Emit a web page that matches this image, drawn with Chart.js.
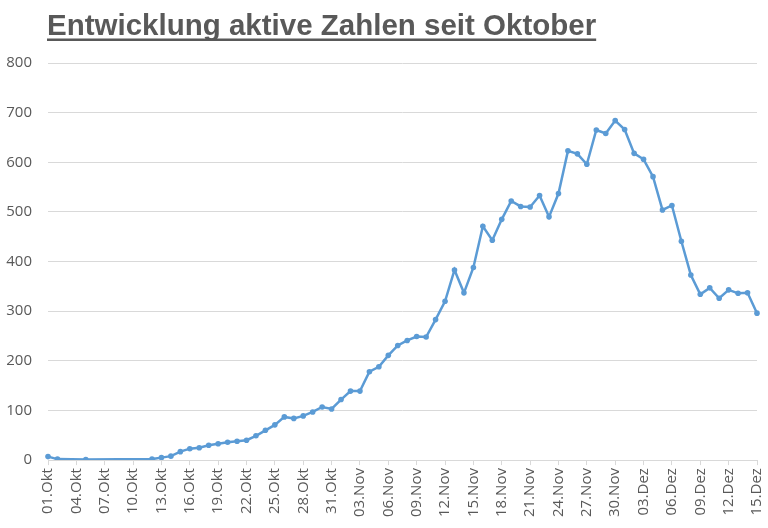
<!DOCTYPE html>
<html>
<head>
<meta charset="utf-8">
<script src="https://cdn.jsdelivr.net/npm/chart.js@4/dist/chart.umd.min.js"></script>
<style>
  html, body { margin: 0; padding: 0; background: #ffffff; }
  #wrap { width: 768px; height: 528px; position: relative; }
</style>
</head>
<body>
<div id="wrap"><canvas id="c"></canvas></div>
<script>
const chartTitle = "Entwicklung aktive Zahlen seit Oktober";

const octLabels = ["01.Okt","02.Okt","03.Okt","04.Okt","05.Okt","06.Okt","07.Okt","08.Okt","09.Okt","10.Okt",
  "11.Okt","12.Okt","13.Okt","14.Okt","15.Okt","16.Okt","17.Okt","18.Okt","19.Okt","20.Okt",
  "21.Okt","22.Okt","23.Okt","24.Okt","25.Okt","26.Okt","27.Okt","28.Okt","29.Okt","30.Okt","31.Okt"];
const novLabels = ["01.Nov","02.Nov","03.Nov","04.Nov","05.Nov","06.Nov","07.Nov","08.Nov","09.Nov","10.Nov",
  "11.Nov","12.Nov","13.Nov","14.Nov","15.Nov","16.Nov","17.Nov","18.Nov","19.Nov","20.Nov",
  "21.Nov","22.Nov","23.Nov","24.Nov","25.Nov","26.Nov","27.Nov","28.Nov","29.Nov","30.Nov"];
const decLabels = ["01.Dez","02.Dez","03.Dez","04.Dez","05.Dez","06.Dez","07.Dez","08.Dez","09.Dez","10.Dez",
  "11.Dez","12.Dez","13.Dez","14.Dez","15.Dez"];

// active cases per day (null = no report that day)
const octValues = [7, 2, null, null, 1, null, null, null, null, null,
  null, 2, 5, 8, 17, 23, 25, 30, 33, 36,
  38, 40, 49, 60, 71, 87, 84, 89, 97, 107, 103];
const novValues = [122, 139, 139, 178, 188, 211, 231, 241, 249, 248,
  283, 320, 383, 337, 388, 471, 443, 485, 522, 511,
  510, 533, 490, 537, 623, 617, 596, 665, 658, 684];
const decValues = [666, 618, 606, 571, 504, 513, 441, 373, 334, 347,
  326, 343, 336, 337, 296];

const yTicks = [0, 100, 200, 300, 400, 500, 600, 700, 800];

const labels = octLabels.concat(novLabels, decLabels);
const values = octValues.concat(novValues, decValues);

const textColor = "#595959";
const lineColor = "#5b9bd5";
const gridColor = "#d9d9d9";

const titlePlugin = {
  id: "underlinedTitle",
  afterDraw(chart) {
    const ctx = chart.ctx;
    ctx.save();
    ctx.font = "bold 29.5px 'Liberation Sans', Arial, sans-serif";
    ctx.fillStyle = textColor;
    ctx.textBaseline = "alphabetic";
    ctx.textAlign = "left";
    const x = 47, y = 35;
    ctx.fillText(chartTitle, x, y);
    const w = ctx.measureText(chartTitle).width;
    ctx.fillRect(x, y + 3.5, w, 2.5);
    ctx.restore();
  }
};

new Chart(document.getElementById("c"), {
  type: "line",
  data: {
    labels: labels,
    datasets: [{
      label: "aktive Fälle",
      data: values,
      borderColor: lineColor,
      backgroundColor: lineColor,
      borderWidth: 2.5,
      pointRadius: 2.8,
      pointBorderWidth: 0,
      pointBackgroundColor: lineColor,
      spanGaps: true,
      tension: 0
    }]
  },
  options: {
    responsive: true,
    maintainAspectRatio: false,
    animation: false,
    layout: { padding: { top: 63, left: 6, right: 11, bottom: 8 } },
    plugins: {
      legend: { display: false },
      tooltip: { enabled: false },
      title: { display: false }
    },
    scales: {
      x: {
        type: "category",
        offset: false,
        afterFit: (scale) => { scale.paddingLeft = 0; scale.paddingRight = 0; },
        border: { display: true, color: gridColor, width: 1 },
        grid: {
          display: true,
          drawOnChartArea: false,
          drawTicks: true,
          tickLength: 5,
          color: gridColor
        },
        ticks: {
          autoSkip: false,
          maxRotation: 90,
          minRotation: 90,
          padding: 3,
          color: textColor,
          font: { family: "'Open Sans', sans-serif", size: 15 },
          callback: function (value, index) {
            return index % 3 === 0 ? this.getLabelForValue(value) : null;
          }
        }
      },
      y: {
        min: 0,
        max: 800,
        afterBuildTicks: (axis) => { axis.ticks = yTicks.map(v => ({ value: v })); },
        afterFit: (axis) => { axis.width = 42; },
        border: { display: false },
        grid: { color: gridColor, lineWidth: 1, drawTicks: false },
        ticks: {
          padding: 16,
          color: textColor,
          font: { family: "'Open Sans', sans-serif", size: 15 }
        }
      }
    }
  },
  plugins: [titlePlugin]
});
</script>
</body>
</html>
